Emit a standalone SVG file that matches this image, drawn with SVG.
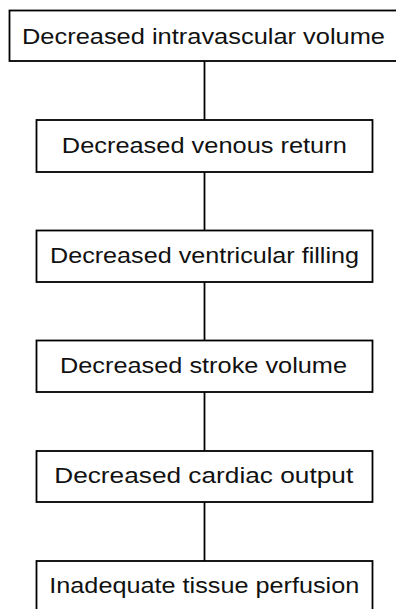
<svg xmlns="http://www.w3.org/2000/svg" width="396" height="609" viewBox="0 0 396 609">
<style>
.box{fill:#fff;stroke:#000;stroke-width:1.8}
.lbl{font-family:"Liberation Sans",Arial,sans-serif;font-size:22px;fill:#111;text-anchor:middle}
.con{stroke:#000;stroke-width:1.8;fill:none}
</style>
<rect width="396" height="609" fill="#fff"/>
<g id="connectors">
<line class="con" x1="204.5" y1="61" x2="204.5" y2="120"/>
<line class="con" x1="204.5" y1="172" x2="204.5" y2="230.5"/>
<line class="con" x1="204.5" y1="282" x2="204.5" y2="340.5"/>
<line class="con" x1="204.5" y1="392" x2="204.5" y2="451"/>
<line class="con" x1="204.5" y1="502" x2="204.5" y2="561"/>
</g>
<g id="n1"><rect class="box" x="9.5" y="10.5" width="392" height="50.5"/><text class="lbl" x="203.5" y="43.5" textLength="363" lengthAdjust="spacingAndGlyphs">Decreased intravascular volume</text></g>
<g id="n2"><rect class="box" x="36.5" y="120" width="336" height="52"/><text class="lbl" x="204.3" y="153.3" textLength="285" lengthAdjust="spacingAndGlyphs">Decreased venous return</text></g>
<g id="n3"><rect class="box" x="36.5" y="230.5" width="336" height="51.5"/><text class="lbl" x="204.5" y="262.8" textLength="309" lengthAdjust="spacingAndGlyphs">Decreased ventricular filling</text></g>
<g id="n4"><rect class="box" x="36.5" y="340.5" width="336" height="51.5"/><text class="lbl" x="203.5" y="372.5" textLength="287" lengthAdjust="spacingAndGlyphs">Decreased stroke volume</text></g>
<g id="n5"><rect class="box" x="36.5" y="451" width="336" height="51"/><text class="lbl" x="203.7" y="483.4" textLength="299" lengthAdjust="spacingAndGlyphs">Decreased cardiac output</text></g>
<g id="n6"><rect class="box" x="36.5" y="561" width="336" height="52"/><text class="lbl" x="204.3" y="593.4" textLength="310" lengthAdjust="spacingAndGlyphs">Inadequate tissue perfusion</text></g>
</svg>
